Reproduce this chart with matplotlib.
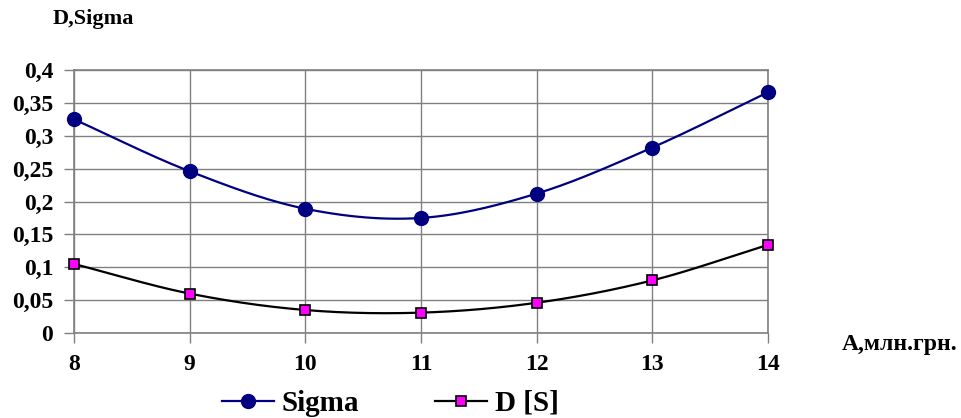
import numpy as np
import matplotlib
matplotlib.use("Agg")
import matplotlib.pyplot as plt

A = [8, 9, 10, 11, 12, 13, 14]
sigma = [0.325, 0.246, 0.189, 0.175, 0.212, 0.282, 0.366]
d_s = [0.105, 0.060, 0.035, 0.031, 0.046, 0.080, 0.134]


def smooth(x, y, n=30):
    # Catmull-Rom curve through the points, like Excel's smoothed line
    x = np.asarray(x, float)
    y = np.asarray(y, float)
    px = np.concatenate([[2 * x[0] - x[1]], x, [2 * x[-1] - x[-2]]])
    py = np.concatenate([[2 * y[0] - y[1]], y, [2 * y[-1] - y[-2]]])
    xs, ys = [], []
    t = np.linspace(0, 1, n)
    for i in range(1, len(px) - 2):
        for p, out in ((px, xs), (py, ys)):
            p0, p1, p2, p3 = p[i - 1], p[i], p[i + 1], p[i + 2]
            out.extend(0.5 * (2 * p1 + (-p0 + p2) * t
                              + (2 * p0 - 5 * p1 + 4 * p2 - p3) * t ** 2
                              + (-p0 + 3 * p1 - 3 * p2 + p3) * t ** 3))
    return xs, ys


plt.rcParams["font.family"] = ["Liberation Serif", "DejaVu Serif"]
plt.rcParams["font.weight"] = "bold"

fig = plt.figure(figsize=(9.61, 4.18), dpi=100)
ax = fig.add_axes([0.077, 0.2033, 0.722, 0.6292])

sx, sy = smooth(A, sigma)
dx, dy = smooth(A, d_s)
ax.plot(sx, sy, color="#000080", lw=1.6, zorder=3)
ax.plot(A, sigma, "o", color="#000080", ms=10, zorder=4, clip_on=False)
ax.plot(dx, dy, color="black", lw=1.6, zorder=3)
ax.plot(A, d_s, "s", color="#ff00ff", mec="black", mew=1.2, ms=7.5, zorder=4, clip_on=False)

ax.set_xlim(8, 14)
ax.set_ylim(0, 0.4)
ax.set_xticks(A)
ax.set_yticks(np.arange(0, 0.401, 0.05))
ax.set_yticklabels(["0", "0,05", "0,1", "0,15", "0,2", "0,25", "0,3", "0,35", "0,4"])
ax.tick_params(axis="both", labelsize=17, length=7, color="#808080", width=1)
ax.tick_params(axis="y", pad=8)
ax.tick_params(axis="x", pad=8)
ax.grid(color="#808080", lw=1)
for s in ax.spines.values():
    s.set_color("#808080")
    s.set_linewidth(1.2)
for lbl in ax.get_xticklabels() + ax.get_yticklabels():
    lbl.set_fontweight("bold")

fig.text(0.055, 0.955, "D,Sigma", fontsize=16, fontweight="bold", ha="left", va="center")
fig.text(0.876, 0.175, "А,млн.грн.", fontsize=17, fontweight="bold", ha="left", va="center")

h1, = ax.plot([], [], "-o", color="#000080", ms=10, lw=1.6)
h2, = ax.plot([], [], "-s", color="black", mfc="#ff00ff", mec="black", mew=1.2, ms=7.5, lw=1.6)
fig.legend([h1, h2], ["Sigma", "D [S]"], loc="center", bbox_to_anchor=(0.406, 0.035),
           ncol=2, frameon=False, prop={"size": 21, "weight": "bold"},
           handlelength=1.8, columnspacing=2.6, handletextpad=0.25,
           borderpad=0, borderaxespad=0)

fig.savefig("out.png", dpi=100)
